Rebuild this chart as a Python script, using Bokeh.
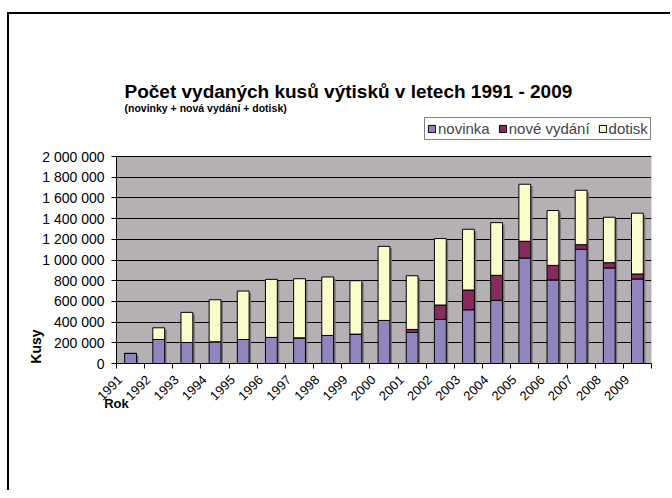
import math
from bokeh.plotting import figure
from bokeh.models import (FixedTicker, Label, Legend, LegendItem, Range1d, ColumnDataSource,
                          BoxAnnotation, LinearAxis)
from bokeh.embed import file_html
from bokeh.resources import INLINE

years = [str(y) for y in range(1991, 2010)]
novinka = [97000, 232000, 203000, 210000, 232000, 252000, 248000, 271000, 284000, 416000,
           300000, 426000, 519000, 610000, 1019000, 807000, 1103000, 923000, 816000]
nove_vydani = [0, 0, 0, 0, 0, 0, 0, 0, 0, 0,
               29000, 139000, 191000, 242000, 162000, 141000, 45000, 51000, 49000]
dotisk = [0, 113000, 291000, 406000, 468000, 561000, 571000, 565000, 516000, 716000,
          519000, 642000, 587000, 509000, 551000, 530000, 526000, 439000, 587000]
y_ticks = [0, 200000, 400000, 600000, 800000, 1000000, 1200000, 1400000, 1600000, 1800000, 2000000]

series = ["novinka", "nove_vydani", "dotisk"]
series_labels = ["novinka", "nové vydání", "dotisk"]
colors = ["#9085bd", "#862c5c", "#fbfbcb"]

FONT = "Liberation Sans"
n = len(years)
xs = list(range(1, n + 1))
totals = [a + b + c for a, b, c in zip(novinka, nove_vydani, dotisk)]
src = ColumnDataSource(dict(x=xs, novinka=novinka, nove_vydani=nove_vydani, dotisk=dotisk))

# page geometry (canvas is shifted by CSS margin)
OX, OY = 9, 14                        # canvas origin on the page
PL, PR, PT, PB = 116, 651, 156, 363   # plot area on the page
W, H = 663, 478
YMAX = y_ticks[-1]
frame_h = PB - OY
p = figure(width=W, height=H, output_backend="svg", toolbar_location=None,
           x_range=Range1d(0.5, n + 0.5),
           y_range=Range1d(0, YMAX * frame_h / (PB - PT)),
           min_border_left=PL - OX, min_border_right=W - (PR - OX),
           min_border_top=0, min_border_bottom=H - frame_h)
p.background_fill_color = "white"
p.border_fill_color = "white"
p.outline_line_color = None
p.styles = {"margin-left": f"{OX}px", "margin-top": f"{OY}px",
            "box-shadow": "-2px -2px 0px 0px black"}

px_x = n / (PR - PL)          # data units per pixel, x
px_y = YMAX / (PB - PT)       # data units per pixel, y

def dx(px):
    return 0.5 + (px - PL) * px_x

def dy(py):
    return (PB - py) * px_y

# gray plot area
p.add_layout(BoxAnnotation(bottom=0, top=YMAX, fill_color="#b4b0b4", fill_alpha=1,
                           line_color="#808080", line_width=1, level="image"))

# bar shadow
p.vbar(x=[x + 2 * px_x for x in xs], bottom=0, top=[t - 2 * px_y for t in totals],
       width=0.42, fill_color="#767276", line_color=None)

renderers = p.vbar_stack(series, x="x", width=0.42, source=src, fill_color=colors,
                         line_color="black", line_width=1)

# x axis: labels sit a little left of the category centre, ticks between categories
LAB_SHIFT = 0.375
label_pos = [x - LAB_SHIFT for x in xs]
p.xaxis.ticker = FixedTicker(ticks=label_pos, minor_ticks=[i + 0.5 for i in range(0, n + 1)])
p.xaxis.major_label_overrides = {lp: y for lp, y in zip(label_pos, years)}
p.xaxis.major_label_orientation = math.pi / 4
p.xaxis.major_label_standoff = 8
p.xaxis.major_tick_line_color = None
p.xaxis.minor_tick_in = 0
p.xaxis.minor_tick_out = 5
p.xaxis.minor_tick_line_color = "black"
p.xaxis.major_label_text_font = FONT
p.xaxis.major_label_text_font_size = "13px"
p.xaxis.major_label_text_color = "black"
p.xaxis.axis_line_color = "black"
p.xaxis.axis_label = "Rok"
p.xaxis.axis_label_text_font = FONT
p.xaxis.axis_label_text_font_size = "13px"
p.xaxis.axis_label_text_font_style = "bold"
p.xaxis.axis_label_text_color = "black"
p.xaxis.axis_label_standoff = -11
p.xaxis.axis_label_align = "start"

p.yaxis.ticker = FixedTicker(ticks=y_ticks)
p.yaxis.bounds = (0, YMAX)
p.yaxis.major_label_overrides = {t: f"{t:,}".replace(",", " ") for t in y_ticks}
p.yaxis.major_tick_in = 0
p.yaxis.major_tick_out = 5
p.yaxis.minor_tick_line_color = None
p.yaxis.major_label_standoff = 7
p.yaxis.major_label_text_font = FONT
p.yaxis.major_label_text_font_size = "14px"
p.yaxis.major_label_text_color = "black"
p.yaxis.axis_line_color = "black"

# second, bare left axis whose only tick label is the vertical "Kusy" title
kusy_pos = dy(346)
kusy_axis = LinearAxis(ticker=FixedTicker(ticks=[kusy_pos]),
                       major_label_overrides={kusy_pos: "Kusy"},
                       major_label_orientation="vertical", major_label_standoff=-4,
                       axis_line_color=None, major_tick_line_color=None,
                       minor_tick_line_color=None, major_tick_out=0, major_tick_in=0,
                       minor_tick_out=0, minor_tick_in=0,
                       major_label_text_font=FONT, major_label_text_font_size="14px",
                       major_label_text_font_style="bold", major_label_text_color="black")
p.add_layout(kusy_axis, "left")

p.xgrid.grid_line_color = None
p.ygrid.grid_line_color = "black"
p.ygrid.grid_line_width = 1

# texts placed inside the (extended) frame
p.add_layout(Label(x=dx(124), y=dy(91), text="Počet vydaných kusů výtisků v letech 1991 - 2009",
                   text_font=FONT, text_font_size="19px", text_font_style="bold",
                   text_align="left", text_baseline="alphabetic", text_color="black"))
p.add_layout(Label(x=dx(124), y=dy(107), text="(novinky + nová vydání + dotisk)",
                   text_font=FONT, text_font_size="10.5px", text_font_style="bold",
                   text_align="left", text_baseline="middle", text_color="black"))

legend = Legend(items=[LegendItem(label=l, renderers=[r]) for l, r in zip(series_labels, renderers)],
                orientation="horizontal", location=(424 - PL, PB - 140),
                label_text_font=FONT, label_text_font_size="15px",
                glyph_width=9, glyph_height=9, label_standoff=2, spacing=8,
                padding=2, margin=0, border_line_color="black", border_line_width=1,
                background_fill_color="white", background_fill_alpha=1,
                label_height=15)
p.add_layout(legend)

open("out.html", "w").write(file_html(p, INLINE))
